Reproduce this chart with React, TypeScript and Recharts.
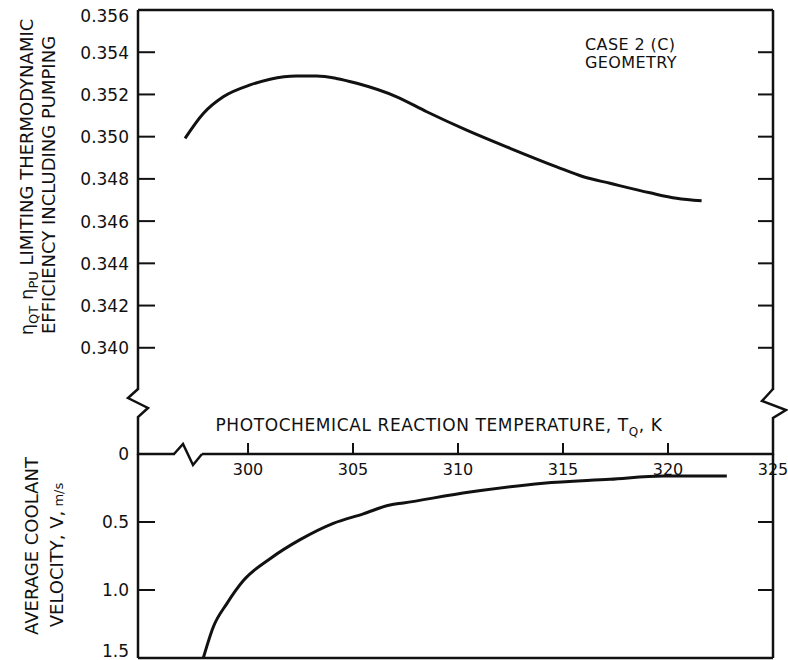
import React from 'react'
import { LineChart, Line, XAxis, YAxis } from 'recharts'

// ---------------------------------------------------------------------------
// Data
// ---------------------------------------------------------------------------

// top panel: limiting thermodynamic efficiency incl. pumping vs T_Q (K)
const EFF_T = [297.0, 297.87, 298.82, 300.1, 301.05, 302.3, 303.27, 304.2, 305.18, 307.08, 308.51, 310.41, 312.48, 314.7, 315.97, 317.24, 319.14, 320.41, 321.6]
const EFF = [0.34992, 0.3511, 0.35189, 0.35245, 0.35272, 0.35287, 0.35287, 0.35276, 0.35253, 0.35189, 0.35118, 0.35031, 0.34945, 0.34857, 0.3481, 0.34779, 0.34734, 0.34708, 0.34696]

// bottom panel: average coolant velocity (m/s) vs T_Q (K)
const VEL_T = [297.87, 298.35, 298.99, 299.78, 301.05, 302.48, 304.06, 305.49, 306.76, 307.4, 310.57, 314.06, 317.24, 319.78, 322.8]
const VEL = [1.5, 1.27, 1.1, 0.93, 0.77, 0.63, 0.51, 0.44, 0.375, 0.36, 0.28, 0.215, 0.186, 0.162, 0.162]

const T_TICKS = [300, 305, 310, 315, 320, 325]
const EFF_TICKS = [0.34, 0.342, 0.344, 0.346, 0.348, 0.35, 0.352, 0.354, 0.356]
const EFF_RIGHT_TICKS = [0.34, 0.342, 0.344, 0.346, 0.348, 0.35, 0.352, 0.354]
const VEL_TICKS = [0, 0.5, 1.0, 1.5]
const VEL_RIGHT_TICKS = [0.5, 1.0]

const T_DOMAIN: [number, number] = [294.76, 325]
const EFF_DOMAIN: [number, number] = [0.338, 0.356]
const VEL_DOMAIN: [number, number] = [0, 1.5]

const effData = EFF_T.map((t, i) => ({ t, eff: EFF[i] }))
const velData = VEL_T.map((t, i) => ({ t, vel: VEL[i] }))

// ---------------------------------------------------------------------------
// Styling
// ---------------------------------------------------------------------------

const INK = '#111'
const FONT = '"DejaVu Sans", sans-serif'
const axisLine = { stroke: INK, strokeWidth: 2.5 }

// edge labels sit a little inside the frame in the original
const LABEL_NUDGE: Record<string, number> = { '0.356': 6, '1.5': -7 }

function LeftTick(props: any) {
  const { x, y, payload, decimals } = props
  const v = payload.value as number
  const label = v === 0 ? '0' : v.toFixed(decimals)
  const nudge = LABEL_NUDGE[String(v)] || 0
  return (
    <g>
      <line x1={x} x2={x + 17} y1={y} y2={y} stroke={INK} strokeWidth={2} />
      <text x={x - 9} y={y + nudge} dy="0.38em" textAnchor="end" fontSize={17} fontFamily={FONT} fill={INK}>
        {label}
      </text>
    </g>
  )
}

function RightTick(props: any) {
  const { x, y } = props
  return <line x1={x - 15} x2={x} y1={y} y2={y} stroke={INK} strokeWidth={2} />
}

function TempTick(props: any) {
  const { x, y, payload } = props
  return (
    <g>
      {payload.value < 325 ? <line x1={x} x2={x} y1={y - 11} y2={y} stroke={INK} strokeWidth={2} /> : null}
      <text x={x} y={y + 21} textAnchor="middle" fontSize={16} fontFamily={FONT} fill={INK}>
        {payload.value}
      </text>
    </g>
  )
}

export default function App() {
  return (
    <div style={{ position: 'absolute', left: 0, top: 0, width: 788, height: 660, background: '#fff' }}>
      {/* top panel */}
      <div style={{ position: 'absolute', left: 0, top: 0 }}>
        <LineChart width={788} height={390} data={effData} margin={{ top: 9, right: 0, bottom: 0, left: 0 }} style={{ overflow: 'visible' }}>
          <XAxis xAxisId="t" type="number" dataKey="t" domain={T_DOMAIN} orientation="top" height={1} tick={false} tickLine={false} axisLine={axisLine} allowDataOverflow />
          <YAxis yAxisId="l" orientation="left" width={138} domain={EFF_DOMAIN} ticks={EFF_TICKS} interval={0} tick={<LeftTick decimals={3} />} tickLine={false} tickSize={0} tickMargin={0} axisLine={axisLine} allowDataOverflow />
          <YAxis yAxisId="r" orientation="right" width={15} domain={EFF_DOMAIN} ticks={EFF_RIGHT_TICKS} interval={0} tick={<RightTick />} tickLine={false} tickSize={0} tickMargin={0} axisLine={axisLine} allowDataOverflow />
          <Line xAxisId="t" yAxisId="l" dataKey="eff" type="monotone" stroke={INK} strokeWidth={3} dot={false} isAnimationActive={false} />
        </LineChart>
      </div>

      {/* bottom panel */}
      <div style={{ position: 'absolute', left: 0, top: 0 }}>
        <LineChart width={788} height={660} data={velData} margin={{ top: 424, right: 0, bottom: 1, left: 0 }} style={{ overflow: 'visible' }}>
          <XAxis xAxisId="t" type="number" dataKey="t" domain={T_DOMAIN} orientation="top" height={30} ticks={T_TICKS} interval={0} tick={<TempTick />} tickLine={false} tickSize={0} tickMargin={0} axisLine={axisLine} allowDataOverflow />
          <XAxis xAxisId="b" type="number" dataKey="t" domain={T_DOMAIN} orientation="bottom" height={1} tick={false} tickLine={false} axisLine={axisLine} allowDataOverflow />
          <YAxis yAxisId="l" orientation="left" reversed width={138} domain={VEL_DOMAIN} ticks={VEL_TICKS} interval={0} tick={<LeftTick decimals={1} />} tickLine={false} tickSize={0} tickMargin={0} axisLine={axisLine} allowDataOverflow />
          <YAxis yAxisId="r" orientation="right" reversed width={15} domain={VEL_DOMAIN} ticks={VEL_RIGHT_TICKS} interval={0} tick={<RightTick />} tickLine={false} tickSize={0} tickMargin={0} axisLine={axisLine} allowDataOverflow />
          <Line xAxisId="t" yAxisId="l" dataKey="vel" type="monotone" stroke={INK} strokeWidth={3} dot={false} isAnimationActive={false} />
        </LineChart>
      </div>

      {/* axis breaks and titles */}
      <svg width={788} height={660} style={{ position: 'absolute', left: 0, top: 0, pointerEvents: 'none', overflow: 'visible' }}>
        <polyline points="138,389 128,398 148,408 138,417 138,455" fill="none" stroke={INK} strokeWidth={2.5} />
        <polyline points="773,389 762,401 786,410 773,418 773,455" fill="none" stroke={INK} strokeWidth={2.5} />
        <rect x={175} y={450} width={27} height={8} fill="#fff" />
        <polyline points="174,454 183,444 193,465 202,454" fill="none" stroke={INK} strokeWidth={2.5} />

        <g fontFamily={FONT} fill={INK}>
          <text transform="translate(33,177) rotate(-90)" textAnchor="middle" fontSize={18}>
            <tspan>η</tspan>
            <tspan dy={5} fontSize={13}>QT</tspan>
            <tspan dy={-5}> η</tspan>
            <tspan dy={5} fontSize={13}>PU</tspan>
            <tspan dy={-5}> LIMITING THERMODYNAMIC</tspan>
          </text>
          <text transform="translate(55,185) rotate(-90)" textAnchor="middle" fontSize={18}>
            EFFICIENCY INCLUDING PUMPING
          </text>

          <text transform="translate(38,546) rotate(-90)" textAnchor="middle" fontSize={18}>
            AVERAGE COOLANT
          </text>
          <text transform="translate(63,555) rotate(-90)" textAnchor="middle" fontSize={18}>
            VELOCITY, V,
            <tspan fontSize={13}> m/s</tspan>
          </text>

          <text x={439} y={431} textAnchor="middle" fontSize={17} letterSpacing={0.6}>
            PHOTOCHEMICAL REACTION TEMPERATURE, T
            <tspan dy={5} fontSize={12}>Q</tspan>
            <tspan dy={-5}>, K</tspan>
          </text>

          <text x={585} y={50} fontSize={16} letterSpacing={0.4}>CASE 2 (C)</text>
          <text x={585} y={68} fontSize={16} letterSpacing={0.4}>GEOMETRY</text>
        </g>
      </svg>
    </div>
  )
}
